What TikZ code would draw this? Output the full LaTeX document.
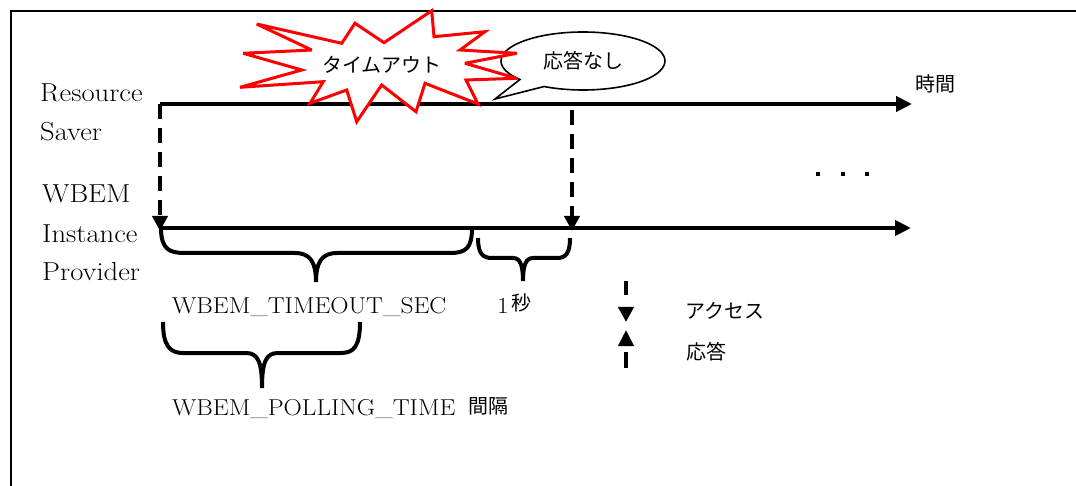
\documentclass[tikz,border=0pt]{standalone}
\usepackage{fontspec}
\newfontfamily\jp{Noto Sans CJK JP}
\newfontfamily\wide{Latin Modern Roman}[FakeStretch=1.1]
\usetikzlibrary{arrows.meta,shapes.callouts}
\begin{document}
\begin{tikzpicture}[x=1pt,y=-1pt,
  timeline/.style={line width=4pt,-{Triangle[length=16pt,width=15pt]}},
  accessarrow/.style={line width=4pt,dash pattern=on 15pt off 9pt,-{Triangle[length=15pt,width=15pt]}},
  bracepath/.style={line width=4pt},
  lbl/.style={font=\wide\fontsize{26}{31}\selectfont,anchor=base west,inner sep=0pt},
  blbl/.style={font=\wide\fontsize{23}{28}\selectfont,anchor=base west,inner sep=0pt},
  jplbl/.style={font=\jp\fontsize{20}{24}\selectfont,inner sep=0pt},
  dot/.style={fill=black,minimum size=4.5pt,inner sep=0pt,outer sep=0pt}]
\useasboundingbox (0,0) rectangle (1076,486);
% frame
\draw[line width=2.5pt] (11,486) -- (11,11) -- (1076,11);
% coordinates
\coordinate (rs0) at (160,104);
\coordinate (rsE) at (912,104);
\coordinate (wp0) at (160,228);
\coordinate (wpE) at (911,228);
\coordinate (a2s) at (572,110);
\coordinate (a2e) at (572,231);
% timelines
\draw[timeline] (rs0) -- (rsE);
\draw[timeline] (wp0) -- (wpE);
\draw[accessarrow] (rs0) -- ([yshift=-3pt]wp0);
\draw[accessarrow] (a2s) -- (a2e);
% side labels
\node[lbl] (res) at (40,102) {Resource};
\node[lbl] (sav) at (40,141) {Saver};
\node[lbl] (wb) at (42,203) {WBEM};
\node[lbl] (ins) at (42,243) {Instance};
\node[lbl] (pro) at (42,280) {Provider};
\node[jplbl] (jikan) at (935,84) {時間};
% dots
\node[dot] (d1) at (818,174) {};
\node[dot] (d2) at (843,174) {};
\node[dot] (d3) at (867,174) {};
% braces
\draw[bracepath] (161,228) .. controls (161,250) and (170,253) .. (185,253) -- (295,253)
  .. controls (310,253) and (316,262) .. (316,282)
  .. controls (316,262) and (322,253) .. (337,253) -- (450,253)
  .. controls (466,253) and (472,248) .. (472,228);
\draw[bracepath] (478,238) .. controls (478,254) and (483,258) .. (492,258) -- (513,258)
  .. controls (520,258) and (523,265) .. (523,281)
  .. controls (523,265) and (526,258) .. (533,258) -- (557,258)
  .. controls (566,258) and (570,253) .. (570,238);
\draw[bracepath] (163,322) .. controls (163,346) and (170,353) .. (183,353) -- (246,353)
  .. controls (258,353) and (262,362) .. (262,388)
  .. controls (262,362) and (266,353) .. (278,353) -- (341,353)
  .. controls (354,353) and (360,346) .. (360,322);
\node[blbl] (tos) at (172,313) {WBEM\textunderscore TIMEOUT\textunderscore SEC};
\node[blbl] (one) at (497,313) {1};
\node[jplbl,anchor=base west] (byo) at (511,311) {秒};
\node[blbl] (pol) at (172,415) {WBEM\textunderscore POLLING\textunderscore TIME};
\node[jplbl,anchor=base west] (kan) at (468,413) {間隔};
% legend
\coordinate (l1s) at (626,281);
\coordinate (l1e) at (626,322);
\coordinate (l2s) at (626,368);
\coordinate (l2e) at (626,330);
\draw[line width=4pt,dash pattern=on 14pt off 20pt,-{Triangle[length=15pt,width=15pt]}] (l1s) -- (l1e);
\draw[line width=4pt,dash pattern=on 16pt off 20pt,-{Triangle[length=16pt,width=15pt]}] (l2s) -- (l2e);
\node[jplbl,anchor=west] (acc) at (685,311) {アクセス};
\node[jplbl,anchor=west] (ans) at (686,352) {応答};
% speech bubble
\node[ellipse callout,draw,line width=1.6pt,fill=white,minimum width=164pt,minimum height=58pt,
  inner sep=0pt,callout absolute pointer={(495,99)},callout pointer arc=22,
  font=\jp\fontsize{20}{24}\selectfont] (bub) at (583,61) {応答なし};
% explosion
\draw[red,line width=3pt,fill=white,miter limit=4] (256.7,24) -- (341.7,43.3) -- (355,23.3) -- (384,42.7)
  -- (431.7,10.7) -- (434,36.7) -- (485,31.7) -- (460,50) -- (516.7,53.3) -- (465,63.3)
  -- (516.7,78.3) -- (466,80) -- (478,104) -- (425,83.3) -- (416,111.7) -- (381.7,85)
  -- (356.7,121.7) -- (346.7,90) -- (310,103.3) -- (323.3,81.7) -- (240,87.3)
  -- (301.7,70) -- (243.3,53.3) -- (311.7,50) -- cycle;
\node[jplbl] (to) at (382,65) {タイムアウト};
\end{tikzpicture}
\end{document}
